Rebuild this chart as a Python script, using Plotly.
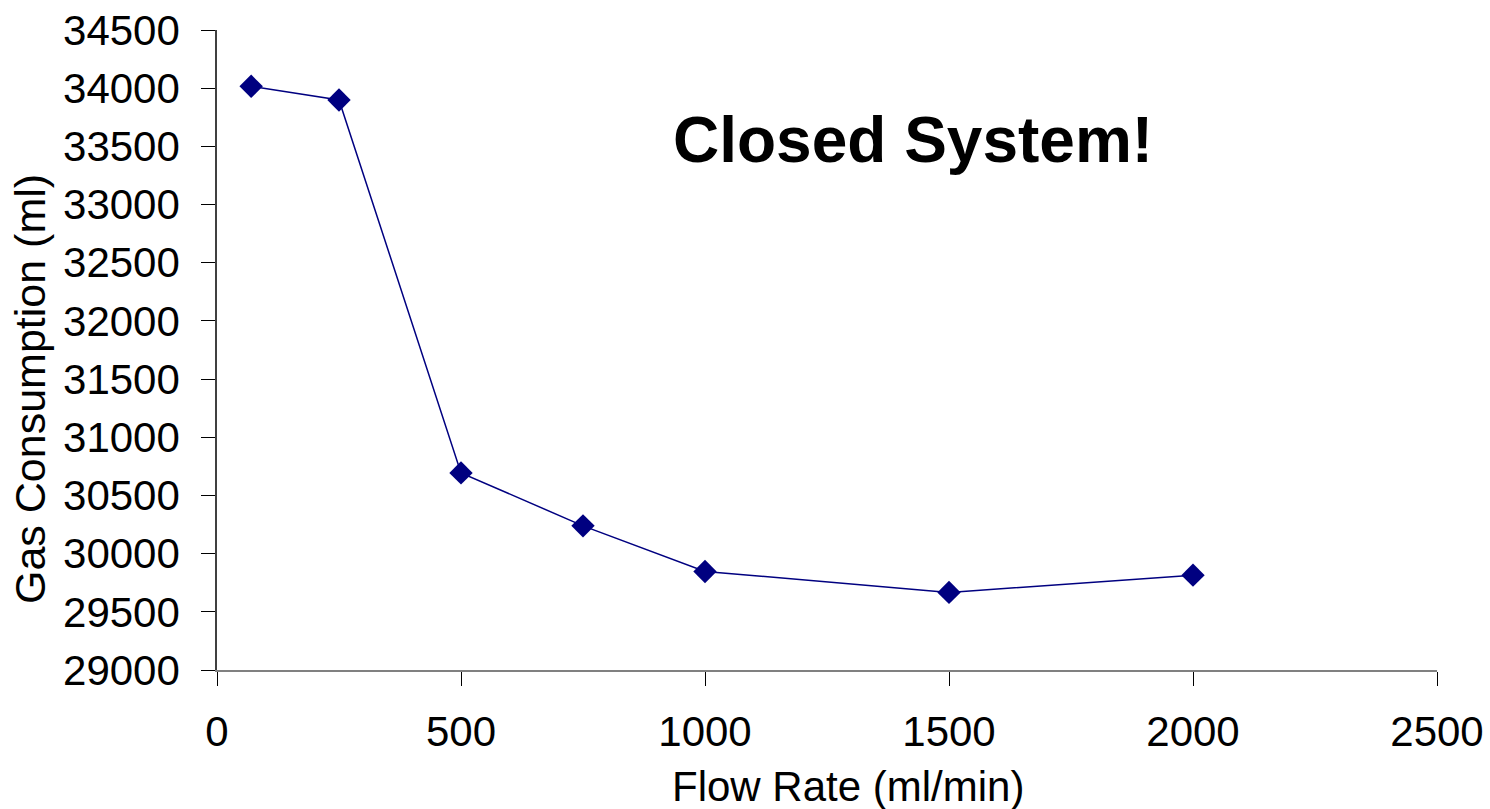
import plotly.graph_objects as go

# Flow rate (ml/min) vs. total gas consumption (ml)
flow_rate = [70, 250, 500, 750, 1000, 1500, 2000]
gas_consumption = [34016, 33899, 30694, 30239, 29847, 29667, 29815]

x_ticks = [0, 500, 1000, 1500, 2000, 2500]
y_ticks = [29000, 29500, 30000, 30500, 31000, 31500, 32000, 32500,
           33000, 33500, 34000, 34500]

FONT = "Liberation Sans, Arial, sans-serif"
NAVY = "#000080"

fig = go.Figure()
fig.add_trace(go.Scatter(
    x=flow_rate,
    y=gas_consumption,
    mode="lines+markers",
    line=dict(color=NAVY, width=1.5),
    marker=dict(symbol="diamond", size=18, color=NAVY),
    showlegend=False,
))

# Headline inside the plot area
fig.add_annotation(
    text="<b>Closed System!</b>",
    xref="paper", yref="paper",
    x=0.5705, y=0.828, xanchor="center", yanchor="middle",
    showarrow=False,
    font=dict(family=FONT, size=64, color="black"),
)

# Axis titles, placed as free text
fig.add_annotation(
    text="Flow Rate (ml/min)",
    xref="paper", yref="paper",
    x=0.5176, y=-0.182, xanchor="center", yanchor="middle",
    showarrow=False,
    font=dict(family=FONT, size=42, color="black"),
)
fig.add_annotation(
    text="Gas Consumption (ml)",
    xref="paper", yref="paper",
    x=-0.1533, y=0.439, xanchor="center", yanchor="middle",
    textangle=-90,
    showarrow=False,
    font=dict(family=FONT, size=43, color="black"),
)

fig.update_xaxes(
    range=[0, 2500],
    tickvals=x_ticks,
    ticktext=[str(v) for v in x_ticks],
    showgrid=False, zeroline=False, automargin=False,
    showline=True, linecolor="#808080", linewidth=1.5,
    ticks="outside", ticklen=14, tickcolor="black", tickwidth=1,
    ticklabelstandoff=10,
    tickfont=dict(family=FONT, size=42, color="black"),
)
fig.update_yaxes(
    range=[29000, 34500],
    tickvals=y_ticks,
    ticktext=[str(v) for v in y_ticks],
    showgrid=False, zeroline=False, automargin=False,
    showline=True, linecolor="#404040", linewidth=1.5,
    ticks="outside", ticklen=14, tickcolor="black", tickwidth=1,
    ticklabelstandoff=13,
    tickfont=dict(family=FONT, size=42, color="black"),
)

fig.update_layout(
    width=1490, height=809,
    margin=dict(l=217, r=53, t=30, b=139),
    paper_bgcolor="white",
    plot_bgcolor="white",
)

fig.write_html("out.html")
